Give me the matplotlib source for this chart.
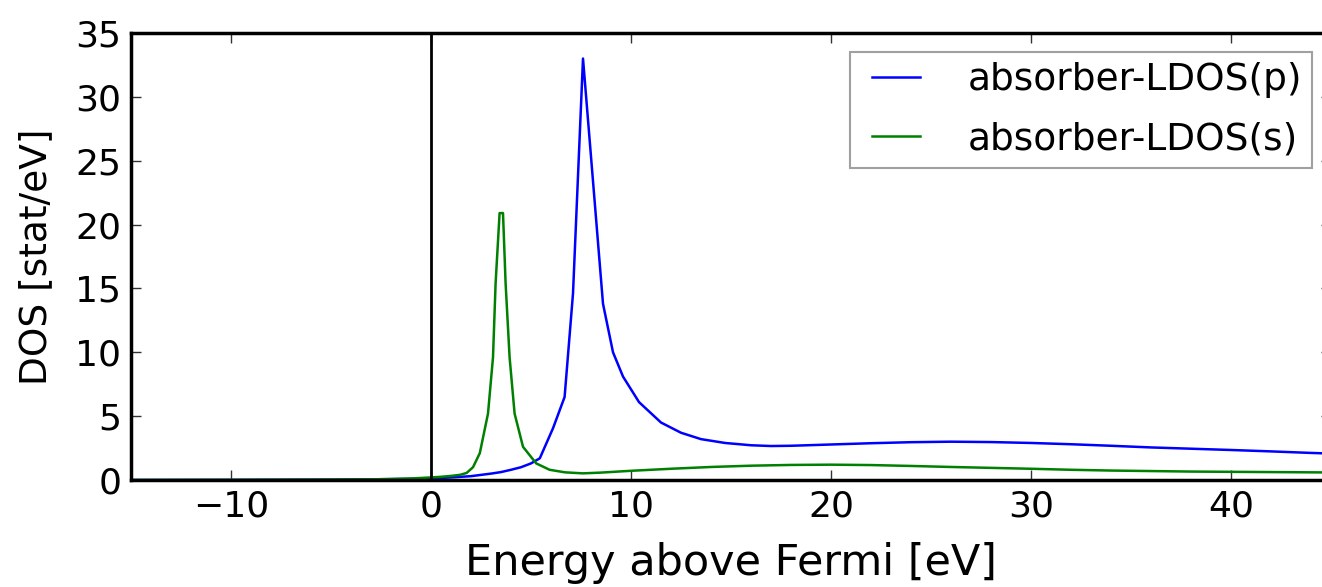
import matplotlib
matplotlib.use('Agg')
import matplotlib.pyplot as plt
from matplotlib.legend_handler import HandlerLine2D

blue = '#0000ff'
green = '#008000'

# absorber p-projected LDOS
energy_p = [-15, -10, -5, -3, -2, -1, 0, 1, 2, 3, 3.5, 4, 4.5, 5, 5.44, 6.1,
            6.68, 7.1, 7.6, 8.6, 9.1, 9.6, 10.4, 11.5, 12.5, 13.5, 14.7, 16,
            17, 18, 20, 22, 24, 26, 28, 30, 32, 34, 36, 38, 40, 42, 44, 46]
ldos_p = [0.0, 0.01, 0.03, 0.05, 0.07, 0.09, 0.12, 0.2, 0.3, 0.5, 0.62, 0.8,
          1.0, 1.3, 1.7, 4.05, 6.5, 14.6, 33.0, 13.8, 10.0, 8.1, 6.1, 4.5,
          3.7, 3.2, 2.9, 2.72, 2.66, 2.68, 2.78, 2.88, 2.96, 3.0, 2.97, 2.9,
          2.8, 2.68, 2.55, 2.45, 2.35, 2.24, 2.12, 2.02]

# absorber s-projected LDOS
energy_s = [-15, -10, -5, -3, -2, -1, 0, 0.5, 1, 1.44, 1.78, 2.1, 2.44, 2.85,
            3.1, 3.23, 3.43, 3.6, 3.73, 3.93, 4.18, 4.6, 5.26, 5.93, 6.7, 7.6,
            8.5, 10, 12, 14, 16, 18, 20, 22, 24, 26, 28, 30, 32, 34, 36, 38,
            40, 42, 44, 46]
ldos_s = [0.0, 0.01, 0.03, 0.05, 0.08, 0.12, 0.2, 0.25, 0.32, 0.4, 0.55, 1.0,
          2.1, 5.2, 9.6, 15.4, 20.9, 20.9, 15.4, 9.6, 5.2, 2.6, 1.3, 0.8,
          0.6, 0.52, 0.58, 0.72, 0.88, 1.02, 1.12, 1.18, 1.2, 1.17, 1.1,
          1.02, 0.95, 0.88, 0.8, 0.74, 0.7, 0.66, 0.64, 0.62, 0.6, 0.58]

xticks = [-10, 0, 10, 20, 30, 40]
yticks = [0, 5, 10, 15, 20, 25, 30, 35]

plt.rc('font', family='DejaVu Sans')
plt.rc('xtick', labelsize=26)
plt.rc('ytick', labelsize=26)

fig = plt.figure(figsize=(13.22, 5.87), dpi=100)
ax = fig.add_axes([131 / 1322, 1 - 480 / 587, 1200 / 1322, 447 / 587])

ax.plot(energy_p, ldos_p, color=blue, linewidth=1.8, label='absorber-LDOS(p)')
ax.plot(energy_s, ldos_s, color=green, linewidth=1.8, label='absorber-LDOS(s)')
ax.axvline(0, color='black', linewidth=2)

ax.set_xlim(-15, 45)
ax.set_ylim(0, 35)
ax.set_xticks(xticks)
ax.set_yticks(yticks)
ax.tick_params(direction='in', top=True, right=True, length=7, width=1,
               color='#333333', pad=7)
for s in ax.spines.values():
    s.set_linewidth(2.5)

ax.set_xlabel('Energy above Fermi [eV]', fontsize=31, labelpad=13)
ax.set_ylabel('DOS [stat/eV]', fontsize=27, labelpad=15)

# short handle lines pushed to the right inside a wider handle box
leg = ax.legend(loc='upper right', fontsize=27, fancybox=False,
                handlelength=1.6, handletextpad=1.25, borderpad=0.28,
                labelspacing=0.62, borderaxespad=0.5,
                handler_map={plt.Line2D: HandlerLine2D(xpad=0.3)})
leg.get_frame().set_edgecolor('#888888')
leg.get_frame().set_linewidth(1.5)

plt.savefig('out.png', dpi=100)
